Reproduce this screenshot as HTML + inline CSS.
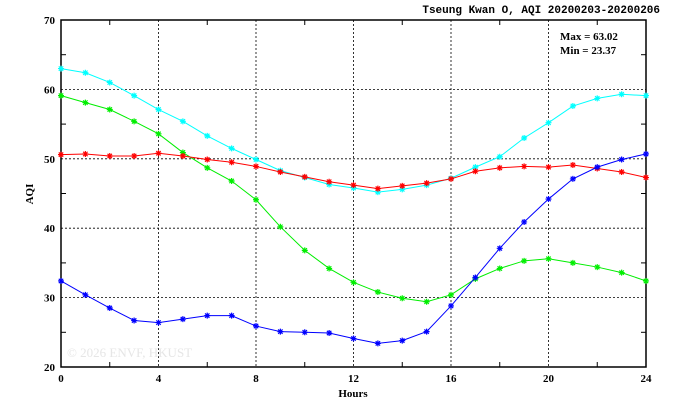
<!DOCTYPE html>
<html><head><meta charset="utf-8"><style>
body{margin:0;background:#fff;}
svg text{font-family:"Liberation Serif",serif;font-weight:bold;font-size:11px;fill:#000;}
</style></head><body>
<svg id="chart" width="674" height="409" xmlns="http://www.w3.org/2000/svg">
<rect width="674" height="409" fill="#fff"/>
<text x="660" y="13" text-anchor="end" style="font-family:'Liberation Mono',monospace;font-size:11px">Tseung Kwan O, AQI 20200203-20200206</text>
<g id="grid"></g>
<g id="axes"></g>
<text x="67" y="357" style="font-weight:normal;font-size:13px;fill:#e6e6e6">© 2026  ENVF, HKUST</text>
<g id="series"></g>
<text x="560" y="40">Max = 63.02</text>
<text x="560" y="54">Min = 23.37</text>
<text x="353" y="397" text-anchor="middle">Hours</text>
<text x="0" y="0" text-anchor="middle" transform="translate(33,194) rotate(-90)">AQI</text>
</svg>
<script>
const hours=[0,1,2,3,4,5,6,7,8,9,10,11,12,13,14,15,16,17,18,19,20,21,22,23,24];
const cyanVals=[63.0,62.4,61.0,59.1,57.1,55.4,53.3,51.5,49.9,48.3,47.3,46.3,45.8,45.2,45.6,46.2,47.2,48.8,50.3,53.0,55.2,57.6,58.7,59.3,59.1];
const greenVals=[59.1,58.1,57.1,55.4,53.6,50.9,48.7,46.8,44.1,40.2,36.8,34.2,32.2,30.8,29.9,29.4,30.4,32.7,34.2,35.3,35.6,35.0,34.4,33.6,32.4];
const redVals=[50.6,50.7,50.4,50.4,50.8,50.4,49.9,49.5,48.9,48.1,47.4,46.7,46.2,45.7,46.1,46.5,47.1,48.2,48.7,48.9,48.8,49.1,48.6,48.1,47.3];
const blueVals=[32.4,30.4,28.5,26.7,26.4,26.9,27.4,27.4,25.9,25.1,25.0,24.9,24.1,23.4,23.8,25.1,28.8,32.9,37.1,40.9,44.2,47.1,48.8,49.9,50.7];
const xTicks=[0,4,8,12,16,20,24];
const yTicks=[20,30,40,50,60,70];
const X0=61,X1=646,Y0=367,Y1=20;
const xs=h=>X0+(X1-X0)*h/24;
const ys=v=>Y0-(Y0-Y1)*(v-20)/50;
const NS="http://www.w3.org/2000/svg";
function mk(t,a,p){const e=document.createElementNS(NS,t);for(const k in a)e.setAttribute(k,a[k]);p.appendChild(e);return e;}
const grid=document.getElementById('grid'),axes=document.getElementById('axes'),ser=document.getElementById('series');
xTicks.forEach(t=>{
 if(t>0&&t<24){const l=mk('line',{x1:xs(t),x2:xs(t),y1:Y1,y2:Y0,stroke:'#000','stroke-width':0.8,'stroke-dasharray':'2,2'},grid);
 }
 const tx=mk('text',{x:xs(t),y:Y0+15,'text-anchor':'middle'},axes);tx.textContent=t;
 
});
for(let h=2;h<24;h+=4){mk('line',{x1:xs(h),x2:xs(h),y1:Y0,y2:Y0-5,stroke:'#000'},axes);mk('line',{x1:xs(h),x2:xs(h),y1:Y1,y2:Y1+5,stroke:'#000'},axes);}
yTicks.forEach(t=>{
 if(t>20&&t<70){const l=mk('line',{x1:X0,x2:X1,y1:ys(t),y2:ys(t),stroke:'#000','stroke-width':0.8,'stroke-dasharray':'2,2'},grid);
 }
 const tx=mk('text',{x:X0-6,y:ys(t)+4,'text-anchor':'end'},axes);tx.textContent=t;
 
});
for(let v=25;v<70;v+=10){mk('line',{x1:X0,x2:X0+5,y1:ys(v),y2:ys(v),stroke:'#000'},axes);mk('line',{x1:X1,x2:X1-5,y1:ys(v),y2:ys(v),stroke:'#000'},axes);}
const frame=mk('rect',{x:X0,y:Y1,width:X1-X0,height:Y0-Y1,fill:'none',stroke:'#000','stroke-width':1.5},axes);

function series(vals,col,name){
 const g=mk('g',{},ser);
 
 mk('polyline',{points:vals.map((v,i)=>xs(hours[i])+','+ys(v)).join(' '),fill:'none',stroke:col,'stroke-width':1},g);
 vals.forEach((v,i)=>{const x=xs(hours[i]),y=ys(v),r=3;
  const m=mk('path',{d:`M${x-r},${y}H${x+r}M${x},${y-r}V${y+r}M${x-r+0.8},${y-r+0.8}L${x+r-0.8},${y+r-0.8}M${x-r+0.8},${y+r-0.8}L${x+r-0.8},${y-r+0.8}`,stroke:col,'stroke-width':1.2},g);
  });
}
series(cyanVals,'#00ffff','cyan-series');
series(greenVals,'#00ee00','green-series');
series(redVals,'#ff0000','red-series');
series(blueVals,'#0000ff','blue-series');
</script>
</body></html>
